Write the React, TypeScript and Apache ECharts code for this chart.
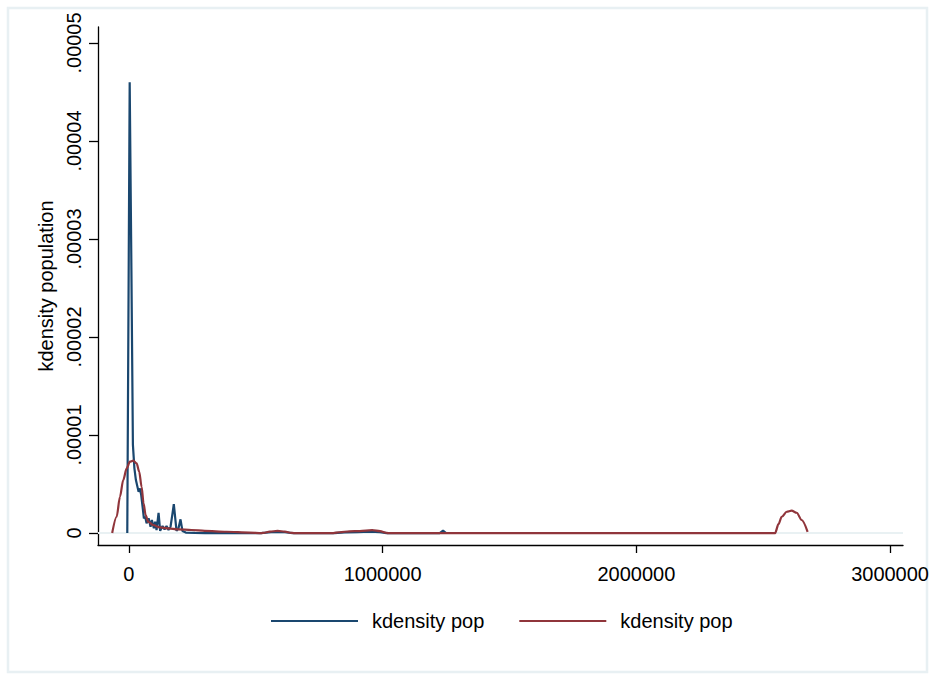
import React, { useEffect, useRef } from "react";
import * as echarts from "echarts";

const xTicks = [0, 1000000, 2000000, 3000000];
const yTicks = [0, 0.00001, 0.00002, 0.00003, 0.00004, 0.00005];
const seriesNames = ["kdensity pop (a)", "kdensity pop (b)"];
const legendLabel = "kdensity pop";
const yTitle = "kdensity population";

// narrow-bandwidth density (blue)
const bluePop = [
  [-6500, 0], [3000, 4.6e-5], [9800, 2.68e-5], [15700, 0.9e-5], [21600, 0.66e-5],
  [27500, 5.4e-6], [38100, 4.2e-6], [43300, 4.56e-6], [48400, 3.88e-6], [53900, 2.68e-6],
  [59000, 1.5e-6], [64100, 1.66e-6], [69600, 0.99e-6], [77500, 1.5e-6], [85300, 0.64e-6],
  [90400, 1.33e-6], [98300, 0.48e-6], [103400, 1.15e-6], [108900, 0.31e-6], [116800, 2.07e-6],
  [123100, 0.23e-6], [132500, 0.71e-6], [140400, 0.38e-6], [148200, 0.71e-6], [156100, 0.31e-6],
  [164000, 0.64e-6], [171800, 2.0e-6], [176900, 2.96e-6], [182000, 1.66e-6], [187600, 0.23e-6],
  [195400, 0.48e-6], [203300, 1.4e-6], [211100, 0.2e-6], [224000, 0.05e-6], [260000, 0.01e-6],
  [300000, 0], [520000, 0], [560000, 0.08e-6], [586000, 0.12e-6], [615000, 0.08e-6],
  [645000, 0], [810000, 0], [850000, 0.06e-6], [900000, 0.1e-6], [950000, 0.15e-6],
  [990000, 0.08e-6], [1015000, 0], [1225000, 0], [1238000, 0.25e-6], [1250000, 0],
];

// wide-bandwidth density (red)
const redPop = [
  [-66000, 0], [-48400, 1.66e-6], [-35400, 3.7e-6], [-22400, 5.41e-6], [-9000, 6.6e-6],
  [3900, 7.28e-6], [16900, 7.38e-6], [30300, 7.11e-6], [40500, 6.26e-6], [49900, 4.72e-6],
  [57800, 3.03e-6], [65700, 1.84e-6], [75900, 1.15e-6], [95500, 0.82e-6], [121900, 0.58e-6],
  [154500, 0.48e-6], [193800, 0.38e-6], [246500, 0.31e-6], [298800, 0.23e-6], [384000, 0.13e-6],
  [475000, 0.05e-6], [523000, 0], [530000, 0.02e-6], [555000, 0.15e-6], [586000, 0.22e-6],
  [615000, 0.15e-6], [640000, 0.02e-6], [650000, 0], [805000, 0], [830000, 0.08e-6],
  [869000, 0.18e-6], [910000, 0.2e-6], [959000, 0.3e-6], [990000, 0.2e-6], [1015000, 0.03e-6],
  [1020000, 0], [2547000, 0], [2560000, 0.9e-6], [2573000, 1.66e-6], [2592600, 2.17e-6],
  [2612000, 2.28e-6], [2632000, 2.07e-6], [2651500, 1.33e-6], [2675000, 0.13e-6],
];

const FONT = '"Liberation Sans", Arial, Helvetica, sans-serif';

export default function App() {
  const ref = useRef<HTMLDivElement>(null);
  useEffect(() => {
    if (!ref.current) return;
    const chart = echarts.init(ref.current, null, { renderer: "svg" });
    chart.setOption({
      animation: false,
      backgroundColor: "#ffffff",
      textStyle: { fontFamily: FONT },
      graphic: [
        {
          type: "rect",
          shape: { x: 8, y: 8, width: 919, height: 664 },
          style: { fill: "none", stroke: "#e8f0f3", lineWidth: 2.5 },
          silent: true,
        },
      ],
      grid: { left: 98, right: 27, top: 27, bottom: 130, containLabel: false },
      legend: {
        data: seriesNames,
        left: 266,
        top: 606,
        icon: "rect",
        itemWidth: 87,
        itemHeight: 2,
        itemGap: 35,
        formatter: () => legendLabel,
        textStyle: { fontSize: 20, color: "#000", fontFamily: FONT, padding: [0, 0, 0, 9] },
      },
      xAxis: {
        type: "value",
        min: -121900,
        max: 3051000,
        axisLine: { show: true, onZero: false, lineStyle: { color: "#000", width: 1.3 } },
        axisTick: { show: true, length: 8, customValues: xTicks, lineStyle: { color: "#000", width: 1.3 } },
        axisLabel: {
          customValues: xTicks,
          margin: 19,
          fontSize: 20,
          color: "#000",
          fontFamily: FONT,
          formatter: (v: number) => String(v),
        },
        splitLine: { show: false },
      },
      yAxis: {
        type: "value",
        min: -1.22e-6,
        max: 5.163e-5,
        name: yTitle,
        nameLocation: "middle",
        nameRotate: 90,
        nameGap: 42,
        nameTextStyle: { fontSize: 20, color: "#000", fontFamily: FONT },
        axisLine: { show: true, onZero: false, lineStyle: { color: "#000", width: 1.3 } },
        axisTick: { show: true, length: 9, customValues: yTicks, lineStyle: { color: "#000", width: 1.3 } },
        axisLabel: {
          customValues: yTicks,
          rotate: 90,
          margin: 14,
          fontSize: 20,
          color: "#000",
          fontFamily: FONT,
          formatter: (v: number) => (v === 0 ? "0" : v.toFixed(5).replace(/^0/, "")),
        },
        splitLine: { show: false },
      },
      series: [
        {
          name: "grid",
          type: "line",
          data: [],
          silent: true,
          z: 1,
          markLine: {
            silent: true,
            z: 1,
            symbol: "none",
            label: { show: false },
            lineStyle: { color: "#e8f0f3", width: 1.6, type: "solid" },
            data: yTicks.map((v) => ({ yAxis: v })),
          },
        },
        {
          name: seriesNames[0],
          type: "line",
          data: bluePop,
          showSymbol: false,
          symbol: "none",
          z: 3,
          color: "#1a476f",
          lineStyle: { color: "#1a476f", width: 2.2 },
        },
        {
          name: seriesNames[1],
          type: "line",
          data: redPop,
          showSymbol: false,
          symbol: "none",
          smooth: 0.3,
          smoothMonotone: "x",
          z: 4,
          color: "#90353b",
          lineStyle: { color: "#90353b", width: 2.2 },
        },
      ],
    });
    return () => chart.dispose();
  }, []);
  return (
    <div
      ref={ref}
      style={{ position: "fixed", left: 0, top: 0, width: 932, height: 675 }}
    />
  );
}
